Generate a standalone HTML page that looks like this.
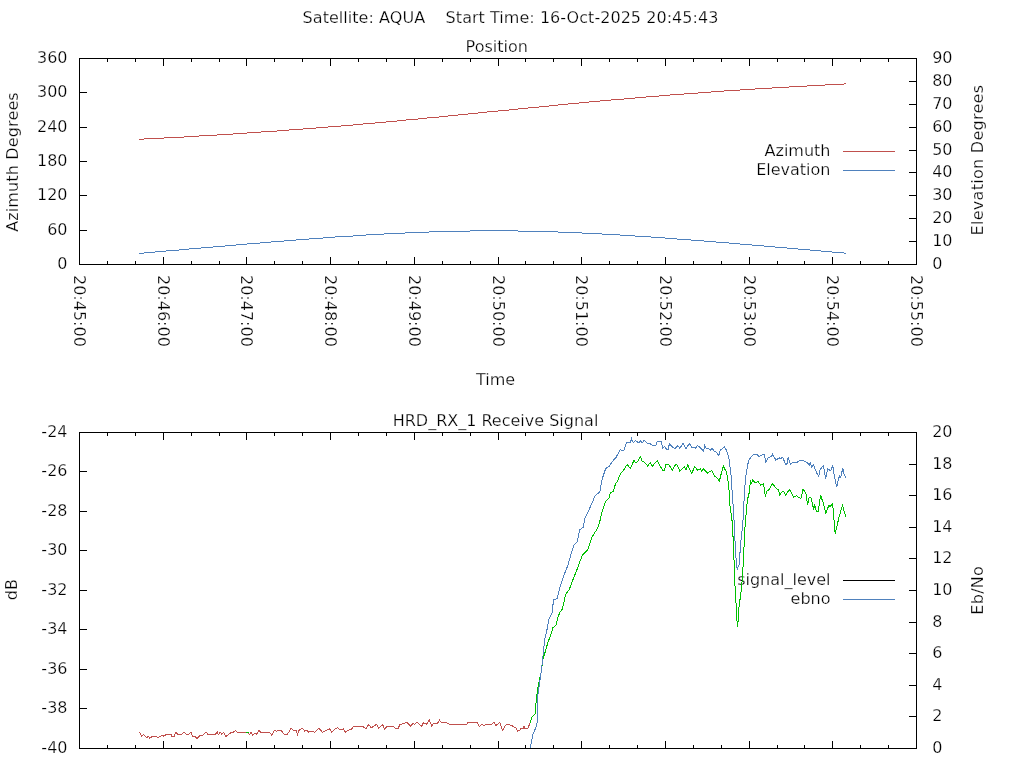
<!DOCTYPE html>
<html lang="en"><head><meta charset="utf-8"><title>Satellite: AQUA pass plot</title>
<style>html,body{margin:0;padding:0;background:#fff;overflow:hidden}svg{display:block;will-change:transform}text{font-family:"DejaVu Sans", "Liberation Sans", sans-serif;font-size:16px;fill:#000;stroke:#fff;stroke-width:0.25px}.ax{fill:none;stroke:#000;stroke-width:1;shape-rendering:crispEdges}.ln{fill:none;stroke-width:1;shape-rendering:crispEdges;stroke-linejoin:miter}</style></head><body>
<svg width="1024" height="768" viewBox="0 0 1024 768">
<text x="510.5" y="23" text-anchor="middle" xml:space="preserve" style="white-space:pre;letter-spacing:0.04px">Satellite: AQUA    Start Time: 16-Oct-2025 20:45:43</text>
<text x="496.7" y="52" text-anchor="middle">Position</text>
<text x="495.5" y="385" text-anchor="middle">Time</text>
<text x="495.5" y="426" text-anchor="middle">HRD_RX_1 Receive Signal</text>
<path class="ax" d="M79.5,58.5H916.5V264.5H79.5ZM107.5,265V261M107.5,58V62M135.5,265V261M135.5,58V62M163.5,265V257M163.5,58V66M191.5,265V261M191.5,58V62M219.5,265V261M219.5,58V62M246.5,265V257M246.5,58V66M274.5,265V261M274.5,58V62M302.5,265V261M302.5,58V62M330.5,265V257M330.5,58V66M358.5,265V261M358.5,58V62M386.5,265V261M386.5,58V62M414.5,265V257M414.5,58V66M442.5,265V261M442.5,58V62M470.5,265V261M470.5,58V62M498.5,265V257M498.5,58V66M525.5,265V261M525.5,58V62M553.5,265V261M553.5,58V62M581.5,265V257M581.5,58V66M609.5,265V261M609.5,58V62M637.5,265V261M637.5,58V62M665.5,265V257M665.5,58V66M693.5,265V261M693.5,58V62M721.5,265V261M721.5,58V62M749.5,265V257M749.5,58V66M777.5,265V261M777.5,58V62M804.5,265V261M804.5,58V62M832.5,265V257M832.5,58V66M860.5,265V261M860.5,58V62M888.5,265V261M888.5,58V62M79,92.5H87M79,127.5H87M79,161.5H87M79,195.5H87M79,230.5H87M909,81.5H917M909,104.5H917M909,127.5H917M909,150.5H917M909,172.5H917M909,195.5H917M909,218.5H917M909,241.5H917"/>
<text x="67.5" y="63" text-anchor="end">360</text>
<text x="67.5" y="97" text-anchor="end">300</text>
<text x="67.5" y="132" text-anchor="end">240</text>
<text x="67.5" y="166" text-anchor="end">180</text>
<text x="67.5" y="200" text-anchor="end">120</text>
<text x="67.5" y="235" text-anchor="end">60</text>
<text x="67.5" y="269" text-anchor="end">0</text>
<text x="932.2" y="63">90</text>
<text x="932.2" y="86">80</text>
<text x="932.2" y="109">70</text>
<text x="932.2" y="132">60</text>
<text x="932.2" y="155">50</text>
<text x="932.2" y="177">40</text>
<text x="932.2" y="200">30</text>
<text x="932.2" y="223">20</text>
<text x="932.2" y="246">10</text>
<text x="932.2" y="269">0</text>
<text transform="translate(73.5,275) rotate(90)">20:45:00</text>
<text transform="translate(157.5,275) rotate(90)">20:46:00</text>
<text transform="translate(240.5,275) rotate(90)">20:47:00</text>
<text transform="translate(324.5,275) rotate(90)">20:48:00</text>
<text transform="translate(408.5,275) rotate(90)">20:49:00</text>
<text transform="translate(492.5,275) rotate(90)">20:50:00</text>
<text transform="translate(575.5,275) rotate(90)">20:51:00</text>
<text transform="translate(659.5,275) rotate(90)">20:52:00</text>
<text transform="translate(743.5,275) rotate(90)">20:53:00</text>
<text transform="translate(826.5,275) rotate(90)">20:54:00</text>
<text transform="translate(910.5,275) rotate(90)">20:55:00</text>
<text transform="translate(17.5,162) rotate(-90)" text-anchor="middle" style="letter-spacing:0.14px">Azimuth Degrees</text>
<text transform="translate(982.7,160) rotate(-90)" text-anchor="middle" style="letter-spacing:0.28px">Elevation Degrees</text>
<text x="830.5" y="156" text-anchor="end">Azimuth</text>
<text x="830.5" y="175" text-anchor="end">Elevation</text>
<path class="ln" stroke="#c0504d" d="M843,151.5H895"/>
<path class="ln" stroke="#4f81bd" d="M843,170.5H895"/>
<path class="ln" stroke="#c0504d" d="M139,139.5H144M144,138.5H164M164,137.5H184M184,136.5H199M199,135.5H217M217,134.5H233M233,133.5H247M247,132.5H261M261,131.5H277M277,130.5H289M289,129.5H303M303,128.5H316M316,127.5H328M328,126.5H341M341,125.5H353M353,124.5H363M363,123.5H375M375,122.5H386M386,121.5H397M397,120.5H406M406,119.5H418M418,118.5H427M427,117.5H439M439,116.5H448M448,115.5H458M458,114.5H468M468,113.5H478M478,112.5H487M487,111.5H498M498,110.5H509M509,109.5H518M518,108.5H528M528,107.5H539M539,106.5H549M549,105.5H558M558,104.5H568M568,103.5H579M579,102.5H589M589,101.5H600M600,100.5H611M611,99.5H624M624,98.5H635M635,97.5H646M646,96.5H659M659,95.5H670M670,94.5H684M684,93.5H698M698,92.5H711M711,91.5H724M724,90.5H740M740,89.5H755M755,88.5H772M772,87.5H789M789,86.5H807M807,85.5H825M825,84.5H844M844,83.5H846"/>
<path class="ln" stroke="#4f81bd" d="M139,253.5H144M144,252.5H155M155,251.5H166M166,250.5H179M179,249.5H189M189,248.5H201M201,247.5H213M213,246.5H225M225,245.5H236M236,244.5H247M247,243.5H260M260,242.5H271M271,241.5H284M284,240.5H296M296,239.5H309M309,238.5H323M323,237.5H335M335,236.5H353M353,235.5H366M366,234.5H384M384,233.5H405M405,232.5H429M429,231.5H470M470,230.5H518M518,231.5H558M558,232.5H582M582,233.5H602M602,234.5H620M620,235.5H635M635,236.5H651M651,237.5H665M665,238.5H677M677,239.5H691M691,240.5H704M704,241.5H716M716,242.5H729M729,243.5H740M740,244.5H752M752,245.5H764M764,246.5H775M775,247.5H787M787,248.5H798M798,249.5H810M810,250.5H821M821,251.5H832M832,252.5H844M844,253.5H846"/>
<path class="ax" d="M79.5,432.5H916.5V748.5H79.5ZM107.5,749V745M107.5,432V436M135.5,749V745M135.5,432V436M163.5,749V741M163.5,432V440M191.5,749V745M191.5,432V436M219.5,749V745M219.5,432V436M246.5,749V741M246.5,432V440M274.5,749V745M274.5,432V436M302.5,749V745M302.5,432V436M330.5,749V741M330.5,432V440M358.5,749V745M358.5,432V436M386.5,749V745M386.5,432V436M414.5,749V741M414.5,432V440M442.5,749V745M442.5,432V436M470.5,749V745M470.5,432V436M498.5,749V741M498.5,432V440M525.5,749V745M525.5,432V436M553.5,749V745M553.5,432V436M581.5,749V741M581.5,432V440M609.5,749V745M609.5,432V436M637.5,749V745M637.5,432V436M665.5,749V741M665.5,432V440M693.5,749V745M693.5,432V436M721.5,749V745M721.5,432V436M749.5,749V741M749.5,432V440M777.5,749V745M777.5,432V436M804.5,749V745M804.5,432V436M832.5,749V741M832.5,432V440M860.5,749V745M860.5,432V436M888.5,749V745M888.5,432V436M79,471.5H87M79,511.5H87M79,550.5H87M79,590.5H87M79,629.5H87M79,669.5H87M79,708.5H87M909,464.5H917M909,495.5H917M909,527.5H917M909,558.5H917M909,590.5H917M909,622.5H917M909,653.5H917M909,685.5H917M909,716.5H917"/>
<text x="67.5" y="437" text-anchor="end">-24</text>
<text x="67.5" y="476" text-anchor="end">-26</text>
<text x="67.5" y="516" text-anchor="end">-28</text>
<text x="67.5" y="555" text-anchor="end">-30</text>
<text x="67.5" y="595" text-anchor="end">-32</text>
<text x="67.5" y="634" text-anchor="end">-34</text>
<text x="67.5" y="674" text-anchor="end">-36</text>
<text x="67.5" y="713" text-anchor="end">-38</text>
<text x="67.5" y="753" text-anchor="end">-40</text>
<text x="932.2" y="437">20</text>
<text x="932.2" y="469">18</text>
<text x="932.2" y="500">16</text>
<text x="932.2" y="532">14</text>
<text x="932.2" y="563">12</text>
<text x="932.2" y="595">10</text>
<text x="932.2" y="627">8</text>
<text x="932.2" y="658">6</text>
<text x="932.2" y="690">4</text>
<text x="932.2" y="721">2</text>
<text x="932.2" y="753">0</text>
<text transform="translate(17.4,589.7) rotate(-90)" text-anchor="middle">dB</text>
<text transform="translate(982.8,590.3) rotate(-90)" text-anchor="middle" style="letter-spacing:0.25px">Eb/No</text>
<text x="830.5" y="585" text-anchor="end">signal_level</text>
<text x="830.5" y="604" text-anchor="end">ebno</text>
<path class="ln" stroke="#000" d="M843,580.5H895"/>
<path class="ln" stroke="#4f81bd" d="M843,599.5H895"/>
<polyline class="ln" stroke="#c0504d" points="139.4,732.2 141.7,736.1 143.7,734.6 146.6,737.7 148.6,736.1 149.5,738.5 152.5,736.3 156.4,736.3 157.9,737.7 162.2,735.5 163.6,736.1 166.1,734.6 171.0,734.6 172.0,736.5 174.0,736.5 175.9,732.2 177.9,734.6 180.8,734.6 184.3,732.2 186.6,734.6 188.6,734.6 190.9,732.2 192.5,736.1 195.4,736.5 196.8,738.5 200.3,735.2 201.9,736.1 204.2,733.6 206.2,732.2 208.1,734.6 215.0,734.6 217.3,732.2 218.5,734.6 220.2,732.2 221.8,734.2 223.8,732.2 225.7,736.5 227.7,735.2 231.6,732.2 233.5,732.2 235.5,730.3 237.4,732.2 245.2,732.2 247.2,732.2 249.5,734.6 251.1,732.2 252.7,735.2 255.0,733.2 256.6,734.2 258.9,730.3 260.9,732.2 269.6,732.2 271.6,735.2 274.5,730.3 276.5,731.2 278.4,730.3 281.4,730.7 284.3,734.6 287.2,734.6 291.1,728.3 293.1,730.3 296.0,730.3 297.6,734.6 298.9,730.3 302.5,728.3 304.8,731.2 306.8,730.3 308.7,732.2 310.7,731.2 314.6,732.2 319.1,728.3 322.4,732.2 326.3,730.3 329.8,728.9 331.7,732.2 334.6,729.3 337.6,727.9 340.5,729.9 343.4,728.9 345.4,732.2 348.3,730.3 351.2,729.3 354.2,726.0 362.0,726.0 365.9,728.9 368.8,724.4 371.2,727.9 373.7,726.0 376.6,724.4 378.6,728.3 382.5,724.4 384.5,728.9 387.4,726.4 393.2,726.4 395.2,728.3 398.1,728.3 400.1,724.4 404.0,723.4 406.9,722.1 410.8,726.4 412.8,723.4 414.7,724.4 416.7,722.1 419.6,724.4 421.6,726.4 423.5,722.5 426.4,724.4 429.4,720.1 431.9,726.4 433.3,723.8 437.2,723.8 439.5,720.1 441.5,722.9 447.0,722.9 449.9,724.4 466.5,724.4 468.4,722.1 471.4,722.9 473.3,722.1 477.2,722.5 479.2,726.4 482.1,724.4 484.1,726.0 486.0,724.4 491.9,724.0 493.8,722.1 495.8,725.4 497.7,724.4 499.7,722.5 502.6,730.3 505.5,725.4 507.5,724.4 510.4,725.0 513.4,726.4 516.3,728.3 517.7,731.2 520.0,730.3 521.0,728.5 523.0,728.5 524.0,726.5 525.0,729.0 528.0,728.0 530.0,723.3"/>
<polyline class="ln" stroke="#00c000" points="530.0,723.3 532.0,717.0 535.0,714.0 536.0,703.5 537.5,690.0 539.0,681.7 541.0,673.3 543.0,658.8 545.0,652.5 548.0,642.0 550.0,637.0 553.0,627.5 556.0,625.4 558.0,617.0 560.0,612.0 562.3,609.3 565.8,594.0 569.3,589.4 572.8,580.0 577.5,568.3 582.2,555.4 588.0,549.5 591.6,537.8 597.4,528.4 599.8,521.4 602.1,512.0 605.6,501.5 609.1,498.0 610.3,492.8 613.4,491.3 615.5,483.8 617.5,481.0 620.9,472.9 623.7,470.1 627.1,464.6 630.5,468.5 633.9,460.5 636.0,463.3 638.7,459.9 640.4,456.7 642.1,461.2 644.9,462.6 647.6,466.0 650.3,462.6 652.4,466.0 657.2,460.8 659.2,464.6 662.6,470.1 664.7,470.1 665.4,464.6 668.8,464.6 672.2,470.1 675.6,464.6 677.0,464.6 679.7,470.8 682.5,468.8 684.5,466.7 685.9,470.1 687.7,464.6 689.3,468.8 691.8,473.1 694.8,466.7 697.5,470.1 700.2,468.8 701.6,470.8 703.7,468.8 707.4,473.1 709.8,471.5 711.9,470.8 714.6,476.3 716.6,477.6 719.4,481.0 721.4,472.9 723.5,466.0 724.5,468.5 726.0,471.2 727.6,477.8 729.0,489.5 729.9,505.0 731.6,516.8 732.9,528.5 733.2,549.0 733.9,551.0 734.3,584.0 735.1,586.0 735.5,594.6 736.4,608.9 737.0,621.3 737.6,626.5 738.1,621.3 738.6,610.9 739.6,602.4 740.7,594.6 741.6,587.4 742.9,569.9 743.5,555.5 744.2,543.8 744.8,529.8 746.1,514.2 747.4,499.9 749.4,492.0 750.5,479.7 751.3,484.3 752.9,479.6 755.0,483.0 757.9,481.5 760.8,485.1 763.6,483.7 765.5,497.3 766.5,491.6 768.6,490.1 772.6,483.7 775.8,488.0 778.7,490.1 779.7,495.1 781.5,492.3 783.7,491.6 785.8,495.1 789.4,489.4 793.7,497.3 796.6,495.9 798.7,497.3 800.9,498.7 803.0,489.4 805.9,493.0 807.6,505.2 808.7,498.0 810.9,497.3 813.7,509.5 814.5,504.5 816.6,511.6 818.3,511.6 820.5,495.1 823.0,502.3 825.9,513.5 828.8,505.2 830.2,506.6 832.6,503.4 835.2,533.8 838.8,518.1 842.4,505.2 846.0,517.3"/>
<path class="ln" stroke="#00c000" d="M246,732.5H249"/>
<polyline class="ln" stroke="#4f81bd" points="530.2,748.0 533.0,733.8 536.0,727.5 537.5,721.0 538.0,694.0 539.5,683.8 541.0,673.0 542.5,660.8 543.5,650.4 545.0,638.0 547.0,629.6 549.0,619.0 552.0,613.0 553.0,604.6 554.0,599.4 557.0,598.8 558.8,591.7 561.1,583.5 563.4,576.5 568.1,564.8 571.6,551.9 574.0,544.8 577.0,542.5 579.8,529.6 583.4,527.3 584.5,519.0 588.0,512.0 592.7,501.5 595.1,495.6 599.8,492.0 602.1,479.2 605.6,468.7 609.1,466.3 612.7,461.2 616.2,457.1 620.3,449.6 623.7,451.0 626.4,442.8 630.5,442.8 631.5,438.3 633.2,442.8 635.3,440.7 638.7,442.8 640.8,440.7 642.1,442.8 644.2,440.3 647.6,443.5 651.0,444.1 652.4,445.5 655.8,445.5 657.2,441.4 661.3,441.4 662.6,448.2 664.7,446.2 666.7,449.6 668.1,449.3 669.5,443.5 671.5,446.2 674.9,448.9 677.7,445.5 679.7,448.2 683.1,443.5 685.9,448.9 689.3,443.5 692.0,447.6 694.1,446.9 695.4,448.2 697.5,445.5 700.2,447.6 703.7,451.0 704.7,445.5 706.4,448.9 708.4,448.2 710.5,450.3 711.9,448.2 714.6,451.7 716.6,452.3 718.7,455.8 720.1,450.3 722.8,448.2 724.2,446.5 725.6,448.5 727.3,453.0 728.9,458.2 729.9,466.0 731.2,476.5 732.0,489.5 733.1,505.0 734.2,523.3 734.8,537.0 735.7,552.9 736.6,566.0 737.3,569.2 738.3,566.6 739.4,564.0 739.7,554.2 740.7,549.0 741.0,539.9 741.6,532.4 742.5,528.5 743.5,511.6 744.6,489.5 745.5,479.0 747.2,467.3 748.7,460.2 750.7,457.6 753.3,454.6 756.5,454.3 759.3,456.5 762.9,454.3 764.3,454.3 765.8,462.2 767.9,457.9 771.5,456.5 772.6,454.3 775.8,460.0 779.4,457.9 780.8,458.6 782.5,457.2 785.8,464.4 787.2,463.6 788.2,457.2 790.5,464.4 793.0,462.2 797.3,462.2 800.1,460.5 803.7,460.8 807.3,462.9 809.4,465.0 810.2,462.9 811.6,467.2 813.5,465.0 816.6,472.9 818.8,476.5 820.2,469.4 823.5,465.4 825.5,478.7 827.8,468.7 830.6,470.8 832.6,465.0 834.5,476.5 836.6,487.3 838.8,478.0 839.8,475.8 840.7,477.7 842.7,468.2 844.1,474.4 846.0,478.0"/>
</svg></body></html>
